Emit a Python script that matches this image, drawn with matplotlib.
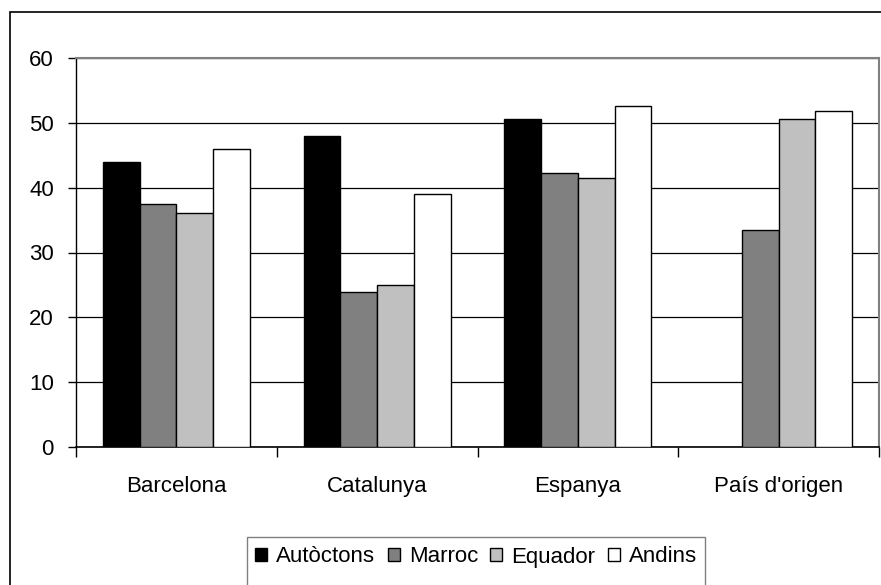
import numpy as np
import matplotlib.pyplot as plt
from matplotlib.patches import Rectangle

plt.rcParams['font.family'] = ['Liberation Sans', 'DejaVu Sans']

# Dades del grafic
categories = ["Barcelona", "Catalunya", "Espanya", "País d'origen"]
grups = ["Autòctons", "Marroc", "Equador", "Andins"]
autoctons = [43.9, 48.0, 50.6, np.nan]
marroc = [37.5, 23.9, 42.2, 33.4]
equador = [36.1, 25.0, 41.5, 50.6]
andins = [45.9, 39.1, 52.6, 51.9]
colors = ["#000000", "#808080", "#c0c0c0", "#ffffff"]
yticks = [0, 10, 20, 30, 40, 50, 60]

series = [autoctons, marroc, equador, andins]

fig = plt.figure(figsize=(8.81, 5.85), dpi=100)
W, H = 881, 585
ax = fig.add_axes([76 / W, 1 - 447 / H, (879 - 76) / W, (447 - 58) / H])

# Marc exterior de la figura
fig.patches.append(Rectangle((10 / W, -0.1), 2.0, 1 - 12 / H + 0.1, transform=fig.transFigure,
                             fill=False, edgecolor="black", linewidth=1.2, zorder=0))

x = np.arange(len(categories))
amplada = 0.183
for i, (vals, col, nom) in enumerate(zip(series, colors, grups)):
    ax.bar(x + (i - 1.5) * amplada, vals, width=amplada, color=col, edgecolor="black",
           linewidth=1.0, label=nom, zorder=3)

ax.set_xlim(-0.5, len(categories) - 0.5)
ax.set_ylim(0, 60)
ax.set_yticks(yticks)
ax.set_yticklabels([str(v) for v in yticks], fontsize=16)
ax.yaxis.grid(True, color="black", linewidth=0.9, zorder=0)
ax.set_axisbelow(True)

ax.set_xticks(x)
ax.set_xticklabels(categories, fontsize=16)
ax.set_xticks(np.arange(-0.5, len(categories)), minor=True)
ax.tick_params(axis="x", which="major", length=0, pad=21)
ax.tick_params(axis="x", which="minor", length=7, direction="out", width=1)
ax.tick_params(axis="y", length=6, width=1, direction="out", pad=10)

for s in ["top", "right"]:
    ax.spines[s].set_color("#808080")
    ax.spines[s].set_linewidth(1.5)
ax.spines["left"].set_linewidth(1.0)
ax.spines["bottom"].set_linewidth(1.2)

# Llegenda
fig.patches.append(Rectangle((247 / W, -0.1), (705 - 247) / W, 1 - 537 / H + 0.1,
                             transform=fig.transFigure, fill=False, edgecolor="#808080",
                             linewidth=1.0))
handles, labels = ax.get_legend_handles_labels()
fig.legend(handles, labels, loc="center", bbox_to_anchor=(476 / W, 1 - 557 / H), ncol=4,
           frameon=False, fontsize=16, handlelength=0.55, handleheight=0.55,
           handletextpad=0.4, columnspacing=0.55, borderpad=0)

fig.savefig("out.png", dpi=100)
